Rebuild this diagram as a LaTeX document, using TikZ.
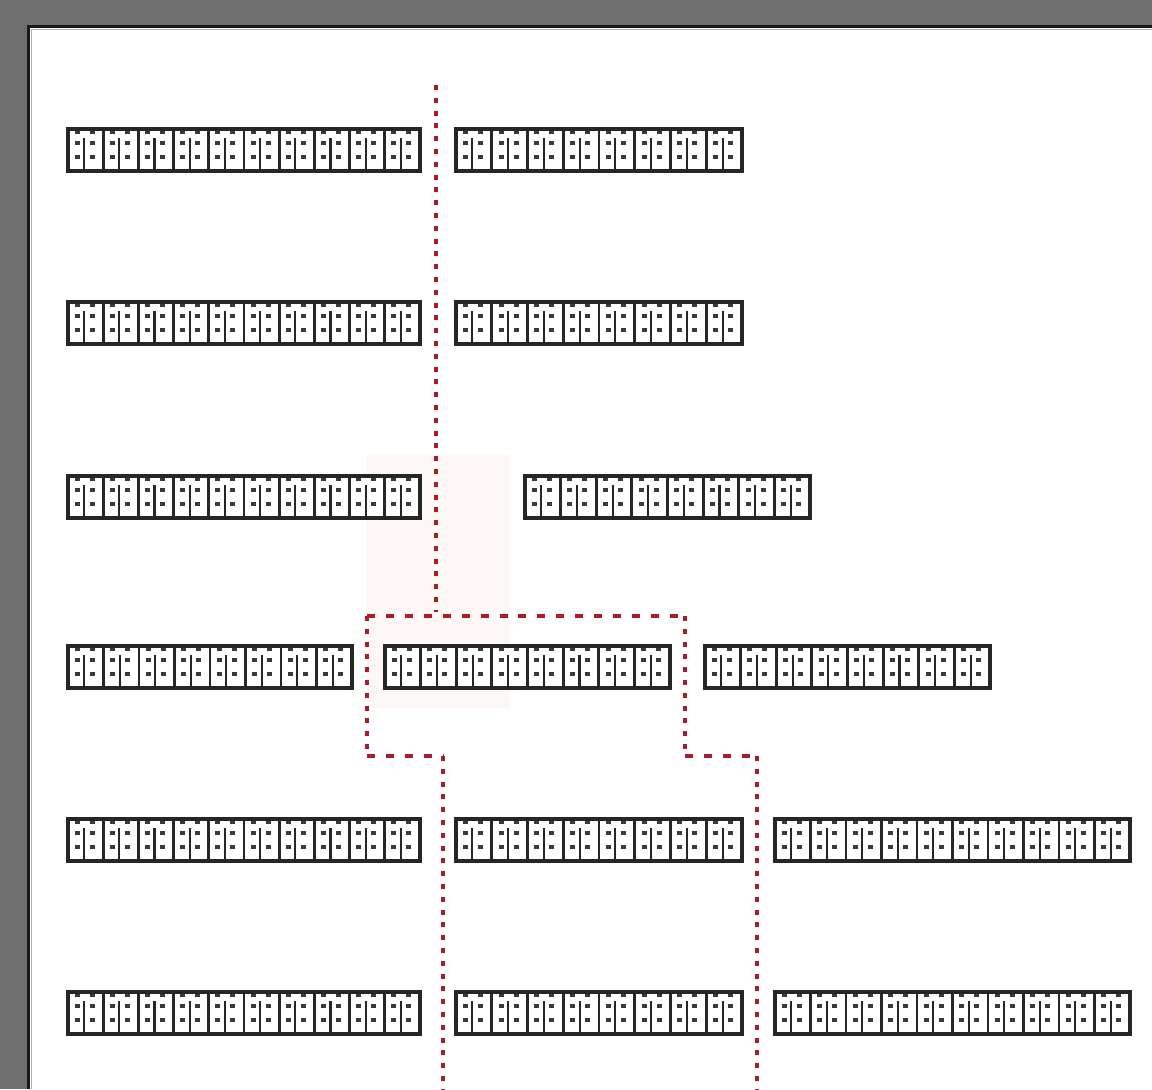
\documentclass[tikz,border=0pt]{standalone}
\usetikzlibrary{calc}
\definecolor{bg}{HTML}{6E6E6E}
\definecolor{rd}{HTML}{A81D28}
\definecolor{faint}{HTML}{FDF8F6}
\definecolor{ink}{HTML}{262626}
\definecolor{digit}{HTML}{3A3A3A}
\tikzset{
  tbox/.style={draw=ink, line width=2.8pt, fill=white, minimum height=31.5pt, inner sep=0pt, outer sep=0pt},
  cellline/.style={draw=ink, line width=2.1pt},
  dig/.style={fill=digit},
  vdot/.style={draw=rd, line width=3.2pt, dash pattern=on 3.8pt off 5.8pt},
  hdot/.style={draw=rd, line width=3.2pt, dash pattern=on 6pt off 8.2pt},
}
% name, left x, right x, centre y, number of cells
\newcommand\tofurow[5]{%
  \node[tbox, minimum width={(#3-#2)*0.75pt}] (#1) at ({(#2+#3)/2},#4) {};
  \pgfmathtruncatemacro\tfm{#5-1}
  \foreach \k in {1,...,\tfm}{
    \draw[cellline] ({#2+\k*(#3-#2)/#5},#4-20) -- ({#2+\k*(#3-#2)/#5},#4+20);
  }
  \foreach \k in {1,...,#5}{
    \pgfmathsetmacro\cx{#2+(\k-0.5)*(#3-#2)/#5}
    \fill[dig] (\cx-11,#4-9) rectangle ++(5,4);
    \fill[dig] (\cx+4,#4-9) rectangle ++(5,4);
    \fill[dig] (\cx-11,#4+5) rectangle ++(5,4);
    \fill[dig] (\cx+4,#4+5) rectangle ++(5,4);
    \fill[dig] (\cx-11,#4-19) rectangle ++(5,3);
    \fill[dig] (\cx+4,#4-19) rectangle ++(5,3);
    \draw[ink, line width=1.6pt] (\cx-1.5,#4-12) -- (\cx-1.5,#4+19);
  }
}
\begin{document}
\begin{tikzpicture}[x=0.75pt,y=-0.75pt]
\useasboundingbox (0,0) rectangle (1152,1089);
\fill[bg] (0,0) rectangle (1152,1089);
\fill[white] (27,25) rectangle (1152,1089);
\draw[black!90, line width=2.4pt] (28.5,1089) -- (28.5,26.5) -- (1152,26.5);
\draw[black!30, line width=0.9pt] (31.5,1089) -- (31.5,29.5) -- (1152,29.5);
% faint highlight
\fill[faint] (367,455) rectangle (510,708);
% boxes
\tofurow{ra}{68}{420}{150}{10}
\tofurow{rb}{456}{742}{150}{8}
\tofurow{sa}{68}{420}{323}{10}
\tofurow{sb}{456}{742}{323}{8}
\tofurow{ta}{68}{420}{497}{10}
\tofurow{tb}{525}{810}{497}{8}
\tofurow{ua}{68}{352}{667}{8}
\tofurow{ub}{385}{670}{667}{8}
\tofurow{uc}{705}{990}{667}{8}
\tofurow{va}{68}{420}{840}{10}
\tofurow{vb}{456}{742}{840}{8}
\tofurow{vc}{775}{1130}{840}{10}
\tofurow{wa}{68}{420}{1013}{10}
\tofurow{wb}{456}{742}{1013}{8}
\tofurow{wc}{775}{1130}{1013}{10}
% dotted separators
\coordinate (t0) at (436,85);
\coordinate (t1) at (436,612);
\coordinate (l1) at (367,616);
\coordinate (r1) at (685,616);
\coordinate (l2) at (367,756);
\coordinate (l3) at (443,756);
\coordinate (l4) at (443,1089);
\coordinate (r2) at (685,756);
\coordinate (r3) at (757,756);
\coordinate (r4) at (757,1089);
\draw[vdot] (t0) -- (t1);
\draw[hdot] (l1) -- (r1);
\draw[vdot] (l1) -- (l2);
\draw[hdot] (l2) -- (l3);
\draw[vdot] (l3) -- (l4);
\draw[vdot] (r1) -- (r2);
\draw[hdot] (r2) -- (r3);
\draw[vdot] (r3) -- (r4);
\end{tikzpicture}
\end{document}
